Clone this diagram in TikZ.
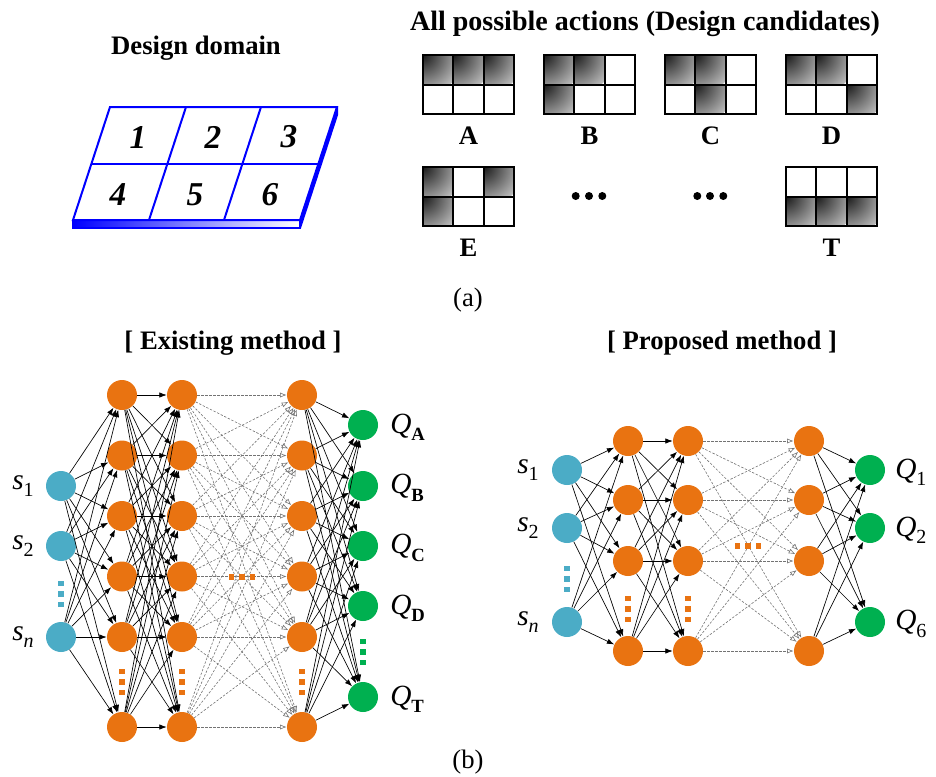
\documentclass[tikz,border=0pt]{standalone}
\usepackage{fontspec}
\setmainfont{Liberation Serif}
\usetikzlibrary{arrows.meta}

\definecolor{netblue}{HTML}{4BACC6}
\definecolor{netorange}{HTML}{E97311}
\definecolor{netgreen}{HTML}{00B050}
\definecolor{plateblue}{HTML}{0000FF}

% subscripted labels
\newcommand\slab[1]{\textit{s}\raisebox{-0.5ex}{\fontsize{15}{17}\selectfont #1}}
\newcommand\qlabb[1]{\textit{Q}\raisebox{-0.55ex}{\fontsize{14}{16}\selectfont\bfseries #1}}
\newcommand\qlabn[1]{\textit{Q}\raisebox{-0.55ex}{\fontsize{15}{17}\selectfont #1}}

% one candidate layout: top-left x, top-left y, shaded cells, name
\newcommand\candgrid[4]{%
  \foreach \k in {#3} {
    \pgfmathtruncatemacro\cc{mod(\k-1,3)}
    \pgfmathtruncatemacro\rr{(\k-1)/3}
    \begin{scope}
      \clip (#1+\cc*30.33,#2+\rr*29.5) rectangle ++(30.33,29.5);
      \shade[inner color=black!90, outer color=black!25] (#1+\cc*30.33,#2+\rr*29.5) circle (40);
    \end{scope}
  }
  \draw[gridline] (#1,#2) rectangle ++(91,59);
  \draw[gridline] (#1+30.33,#2) -- ++(0,59) (#1+60.67,#2) -- ++(0,59) (#1,#2+29.5) -- ++(91,0);
  \node[lab] (cand#4) at (#1+45.5,#2+81) {#4};
}

% three small squares standing for omitted units
\newcommand\vdotsq[3]{\foreach \d in {-10.3,0,10.3} \fill[#3] (#1-2.6,#2+\d-2.6) rectangle ++(5.2,5.2);}
\newcommand\hdotsq[3]{\foreach \d in {-10.3,0,10.3} \fill[#3] (#1+\d-2.6,#2-2.6) rectangle ++(5.2,5.2);}

\begin{document}
\begin{tikzpicture}[x=0.75pt,y=-0.75pt,
  title/.style={font=\fontsize{20}{24}\selectfont\bfseries},
  captext/.style={font=\fontsize{20}{24}\selectfont},
  digit/.style={font=\fontsize{25}{30}\selectfont\bfseries\itshape},
  lab/.style={font=\fontsize{20}{24}\selectfont\bfseries},
  sym/.style={font=\fontsize{22}{26}\selectfont, inner sep=0pt},
  neuron/.style={circle, minimum size=22.5pt, inner sep=0pt},
  inp/.style={neuron, fill=netblue},
  hid/.style={neuron, fill=netorange},
  outn/.style={neuron, fill=netgreen},
  conn/.style={-{Latex[length=5.5pt,width=4pt]}, line width=0.5pt, black},
  dconn/.style={-{Latex[open,length=5pt,width=3.8pt]}, line width=0.45pt, black!55, dash pattern=on 1.8pt off 1.2pt},
  gridline/.style={line width=1.5pt, black},
  plate/.style={plateblue, line width=1.5pt, line join=miter}
]
\useasboundingbox (0,0) rectangle (936,776);

% ---------------- (a) design domain ----------------
\node[title] (ddtitle) at (196,48) {Design domain};

% slab thickness: right side and front face
\fill[plateblue] (337,107) -- (337,115) -- (300,228) -- (300,220) -- cycle;
\shade[left color=plateblue, right color=white] (73,220) rectangle (300,228);
\draw[plate] (73,220) rectangle (300,228);
\draw[plate] (337,107) -- (337,115) -- (300,228);
% top face with six elements
\draw[plate, fill=white] (110,107) -- (337,107) -- (300,220) -- (73,220) -- cycle;
\draw[plate] (91.5,164) -- (318.5,164);
\draw[plate] (186,107) -- (149,220);
\draw[plate] (261,107) -- (224,220);
\node[digit] (d1) at (138,137) {1};
\node[digit] (d2) at (213,137) {2};
\node[digit] (d3) at (289,137) {3};
\node[digit] (d4) at (118,195) {4};
\node[digit] (d5) at (195,195) {5};
\node[digit] (d6) at (270,195) {6};

% ---------------- (a) candidates ----------------
\node[title, font=\fontsize{21}{25}\selectfont\bfseries] (catitle) at (645,24) {All possible actions (Design candidates)};
\candgrid{423}{55}{1,2,3}{A}
\candgrid{544}{55}{1,2,4}{B}
\candgrid{665}{55}{1,2,5}{C}
\candgrid{786}{55}{1,2,6}{D}
\candgrid{423}{167}{1,3,4}{E}
\candgrid{786}{167}{4,5,6}{T}
\foreach \x in {575.7,589,602.3,697.3,710,723.3} \fill (\x,196) circle (4);

\node[captext] (capa) at (468,300) {(a)};

% ---------------- (b) existing method ----------------
\node[title] (extitle) at (233,343) {[ Existing method ]};

\foreach \y [count=\k] in {486,546,637} \node[inp] (ein\k) at (61,\y) {};
\foreach \c/\x in {a/122,b/182,c/302} {
  \foreach \y [count=\k] in {395,455.5,516,576.5,637,727} \node[hid] (e\c\k) at (\x,\y) {};
}
\foreach \y [count=\k] in {425,486,546,606,697} \node[outn] (eout\k) at (363,\y) {};

\foreach \i in {1,...,3} \foreach \j in {1,...,6} \draw[conn] (ein\i) -- (ea\j);
\foreach \i in {1,...,6} \foreach \j in {1,...,6} \draw[conn] (ea\i) -- (eb\j);
\foreach \i in {1,...,6} \foreach \j in {1,...,6} \draw[dconn] (eb\i) -- (ec\j);
\foreach \i in {1,...,6} \foreach \j in {1,...,5} \draw[conn] (ec\i) -- (eout\j);

\vdotsq{61}{594}{netblue}
\vdotsq{122}{682}{netorange}
\vdotsq{182}{682}{netorange}
\vdotsq{302}{682}{netorange}
\vdotsq{363}{652}{netgreen}
\hdotsq{242}{577}{netorange}

\node[sym, anchor=west] (es1) at (12,486) {\slab{1}};
\node[sym, anchor=west] (es2) at (12,546) {\slab{2}};
\node[sym, anchor=west] (esn) at (12,637) {\slab{\textit{n}}};
\node[sym, anchor=west] (eqA) at (390,427) {\qlabb{A}};
\node[sym, anchor=west] (eqB) at (390,488) {\qlabb{B}};
\node[sym, anchor=west] (eqC) at (390,548) {\qlabb{C}};
\node[sym, anchor=west] (eqD) at (390,608) {\qlabb{D}};
\node[sym, anchor=west] (eqT) at (390,699) {\qlabb{T}};

% ---------------- (b) proposed method ----------------
\node[title] (prtitle) at (722,343) {[ Proposed method ]};

\foreach \y [count=\k] in {470,528,622} \node[inp] (pin\k) at (567,\y) {};
\foreach \c/\x in {a/628,b/688,c/809} {
  \foreach \y [count=\k] in {441,500,561,651} \node[hid] (p\c\k) at (\x,\y) {};
}
\foreach \y [count=\k] in {470,528,622} \node[outn] (pout\k) at (870,\y) {};

\foreach \i in {1,...,3} \foreach \j in {1,...,4} \draw[conn] (pin\i) -- (pa\j);
\foreach \i in {1,...,4} \foreach \j in {1,...,4} \draw[conn] (pa\i) -- (pb\j);
\foreach \i in {1,...,4} \foreach \j in {1,...,4} \draw[dconn] (pb\i) -- (pc\j);
\foreach \i in {1,...,4} \foreach \j in {1,...,3} \draw[conn] (pc\i) -- (pout\j);

\vdotsq{567}{579}{netblue}
\vdotsq{628}{609}{netorange}
\vdotsq{688}{609}{netorange}
\hdotsq{748}{546}{netorange}

\node[sym, anchor=west] (ps1) at (517,470) {\slab{1}};
\node[sym, anchor=west] (ps2) at (517,528) {\slab{2}};
\node[sym, anchor=west] (psn) at (517,622) {\slab{\textit{n}}};
\node[sym, anchor=west] (pq1) at (895,472) {\qlabn{1}};
\node[sym, anchor=west] (pq2) at (895,530) {\qlabn{2}};
\node[sym, anchor=west] (pq6) at (895,624) {\qlabn{6}};

\node[captext] (capb) at (468,762) {(b)};
\end{tikzpicture}
\end{document}
